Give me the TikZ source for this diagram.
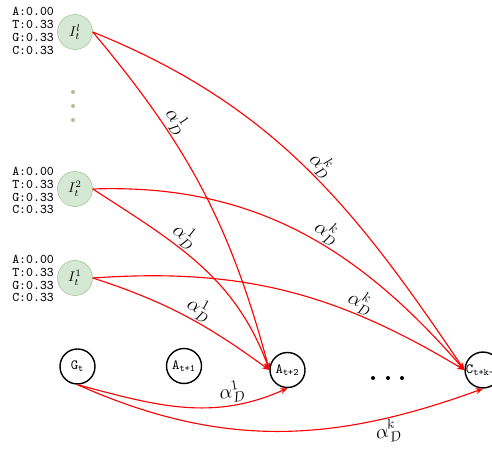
\documentclass[tikz,border=0pt]{standalone}
\usepackage{amsmath}
\usetikzlibrary{arrows.meta}
\definecolor{instfill}{HTML}{D5E8D4}
\definecolor{instdraw}{HTML}{A3C48F}
\tikzset{
  inst/.style={circle,draw=instdraw,fill=instfill,minimum size=0.875cm,inner sep=0pt},
  base/.style={circle,draw,line width=1pt,minimum size=0.875cm,inner sep=0pt,font=\ttfamily},
  link/.style={red,line width=0.8pt,-{Stealth[length=1.8mm,width=1.5mm]}},
  lbl/.style={sloped,text=black,font=\Large,inner sep=1pt},
  probs/.style={align=left,anchor=west,inner sep=0pt,font=\ttfamily\fontsize{9.4}{9.2}\selectfont},
  dot/.style={circle,fill,inner sep=0pt,minimum size=0.1cm},
}

\begin{document}
\begin{tikzpicture}[x=0.025cm,y=0.025cm]
  \useasboundingbox (0,0) rectangle (492,452);
  % instances with their base probabilities
  \node[inst] (Il) at (75,420) {$I_t^l$};
  \node[inst] (I2) at (75,263) {$I_t^2$};
  \node[inst] (I1) at (75,174) {$I_t^1$};
  \node[probs] (pl) at (12,421) {A:0.00\\T:0.33\\G:0.33\\C:0.33};
  \node[probs] (p2) at (12,261.5) {A:0.00\\T:0.33\\G:0.33\\C:0.33};
  \node[probs] (p1) at (12,173.5) {A:0.00\\T:0.33\\G:0.33\\C:0.33};
  \foreach \y [count=\i] in {360,346,332}
    \node[dot,fill=instdraw] (v\i) at (73,\y) {};
  % sequence
  \node[base] (G) at (77.5,85.5) {G\textsubscript{t}};
  \node[base] (A1) at (184,86) {A\textsubscript{t+1}};
  \node[base] (A2) at (287.5,82) {A\textsubscript{t+2}};
  \node[base] (C) at (483,82) {C\textsubscript{t+k-1}};
  \foreach \x [count=\i] in {373,388,402}
    \node[dot] (h\i) at (\x,74) {};
  % transitions
  \draw[link] (Il.east) to[out=-50,in=105] node[lbl,pos=0.3,above] {$\alpha_D^1$} (A2.west);
  \draw[link] (Il.east) to[out=-22,in=124] node[lbl,pos=0.52,above] {$\alpha_D^k$} (C.west);
  \draw[link] (I2.east) to[out=-33,in=110] node[lbl,pos=0.38,above] {$\alpha_D^1$} (A2.west);
  \draw[link] (I2.east) to[out=2,in=131] node[lbl,pos=0.56,above] {$\alpha_D^k$} (C.west);
  \draw[link] (I1.east) to[out=-18,in=144] node[lbl,pos=0.55,above] {$\alpha_D^1$} (A2.west);
  \draw[link] (I1.east) to[out=4,in=149] node[lbl,pos=0.7,above] {$\alpha_D^k$} (C.west);
  \draw[link] (G.south) to[out=-15,in=-156] node[lbl,pos=0.75,above] {$\alpha_D^1$} (A2.south);
  \draw[link] (G.south) to[out=-24,in=-160] node[lbl,pos=0.77,below] {$\alpha_D^k$} (C.south);
\end{tikzpicture}
\end{document}
